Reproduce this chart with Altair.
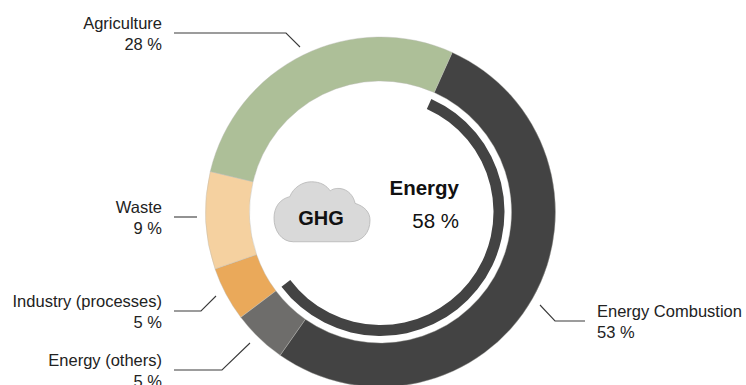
import math
import altair as alt
import pandas as pd

# GHG emission shares by source, clockwise from the top-right boundary
sources = ["Energy Combustion", "Energy (others)", "Industry (processes)", "Waste", "Agriculture"]
shares = [53, 5, 5, 9, 28]
slice_colors = ["#434343", "#6e6d6b", "#eaa95a", "#f5d1a0", "#adbf98"]

# Total energy share shown by the thin inner ring
ring_labels = ["Energy", "Rest"]
ring_shares = [58, 42]

W, H = 746, 385
CX, CY = 380.5, 212
START = math.radians(24.2)
theta_scale = alt.Scale(domain=[0, 100], range=[START, START + 2 * math.pi])

donut = (
    alt.Chart(pd.DataFrame({"source": sources, "share": shares, "order": range(5)}))
    .mark_arc(radius=175, radius2=131, stroke="#b9b9b4", strokeWidth=0.4)
    .encode(
        x=alt.value(CX),
        y=alt.value(CY),
        theta=alt.Theta("share:Q", stack=True, scale=theta_scale),
        order=alt.Order("order:Q"),
        color=alt.Color("source:N", scale=alt.Scale(domain=sources, range=slice_colors), legend=None),
    )
)

ring = (
    alt.Chart(pd.DataFrame({"part": ring_labels, "share": ring_shares, "order": [0, 1]}))
    .mark_arc(radius=124, radius2=113)
    .encode(
        x=alt.value(CX),
        y=alt.value(CY),
        theta=alt.Theta("share:Q", stack=True, scale=theta_scale),
        order=alt.Order("order:Q"),
        color=alt.Color("part:N", scale=alt.Scale(domain=ring_labels, range=["#434343", "transparent"]), legend=None),
    )
)

# Leader lines from each caption to its slice
leaders = {
    "Agriculture": [(174, 33), (286, 33), (300, 47)],
    "Waste": [(174, 217), (197, 217)],
    "Industry (processes)": [(174, 311), (201, 311), (216, 296)],
    "Energy (others)": [(174, 370), (222, 370), (250, 343)],
    "Energy Combustion": [(585, 321), (555, 321), (540, 305)],
}
leader_rows = [
    {"name": k, "i": i, "px": p[0], "py": p[1]} for k, pts in leaders.items() for i, p in enumerate(pts)
]
leader_lines = (
    alt.Chart(pd.DataFrame(leader_rows))
    .mark_line(color="#3a3a3a", strokeWidth=1.1)
    .encode(
        x=alt.X("px:Q", scale=None, axis=None),
        y=alt.Y("py:Q", scale=None, axis=None),
        detail="name:N",
        order="i:Q",
    )
)

# Caption placement: name line and share line per source
captions = {
    "Agriculture": (162, 29, "right"),
    "Waste": (162, 213, "right"),
    "Industry (processes)": (162, 307, "right"),
    "Energy (others)": (162, 366, "right"),
    "Energy Combustion": (597, 317, "left"),
}
caption_rows = []
for name, share in zip(sources, shares):
    x, y, side = captions[name]
    caption_rows.append({"t": name, "px": x, "py": y, "side": side})
    caption_rows.append({"t": f"{share} %", "px": x, "py": y + 21, "side": side})
caption_df = pd.DataFrame(caption_rows)


def caption_layer(side):
    return (
        alt.Chart(caption_df[caption_df.side == side])
        .mark_text(font="Liberation Sans", fontSize=16.5, color="#222222", align=side, baseline="alphabetic")
        .encode(
            x=alt.X("px:Q", scale=None, axis=None),
            y=alt.Y("py:Q", scale=None, axis=None),
            text="t:N",
        )
    )


# Cloud outline in symbol units: flat base, two rounded lobes on top
CLOUD = (
    "M -0.6 0.62 C -0.85 0.62 -1 0.38 -1 0.13 C -1 -0.1 -0.88 -0.27 -0.67 -0.32 "
    "C -0.6 -0.5 -0.42 -0.63 -0.22 -0.63 C -0.03 -0.63 0.1 -0.55 0.17 -0.44 "
    "C 0.25 -0.5 0.32 -0.49 0.375 -0.49 C 0.55 -0.47 0.66 -0.33 0.69 -0.18 "
    "C 0.88 -0.12 1 0 1 0.17 C 1 0.42 0.85 0.62 0.58 0.62 Z"
)
cloud = (
    alt.Chart(pd.DataFrame({"name": ["GHG"]}))
    .mark_point(shape=CLOUD, size=96 * 96, filled=True, fill="#d9d9d9", stroke="#b5b5b5", strokeWidth=0.8, opacity=1)
    .encode(x=alt.value(322), y=alt.value(212))
)


def center_text(text, x, y, size, weight, align):
    return (
        alt.Chart(pd.DataFrame({"t": [text]}))
        .mark_text(font="Liberation Sans", fontSize=size, fontWeight=weight, color="#111111", align=align, baseline="alphabetic")
        .encode(x=alt.value(x), y=alt.value(y), text="t:N")
    )


chart = (
    alt.layer(
        donut,
        ring,
        leader_lines,
        caption_layer("right"),
        caption_layer("left"),
        cloud,
        center_text("GHG", 321, 225, 20, "bold", "center"),
        center_text("Energy", 459, 195, 20.5, "bold", "right"),
        center_text("58 %", 459, 228, 20.5, "normal", "right"),
    )
    .resolve_scale(color="independent", theta="independent")
    .properties(width=W, height=H, padding=0, autosize=alt.AutoSizeParams(type="none"), background="white")
    .configure_view(stroke=None)
)

chart.save("out.html", embed_options={"renderer": "svg", "actions": False})
